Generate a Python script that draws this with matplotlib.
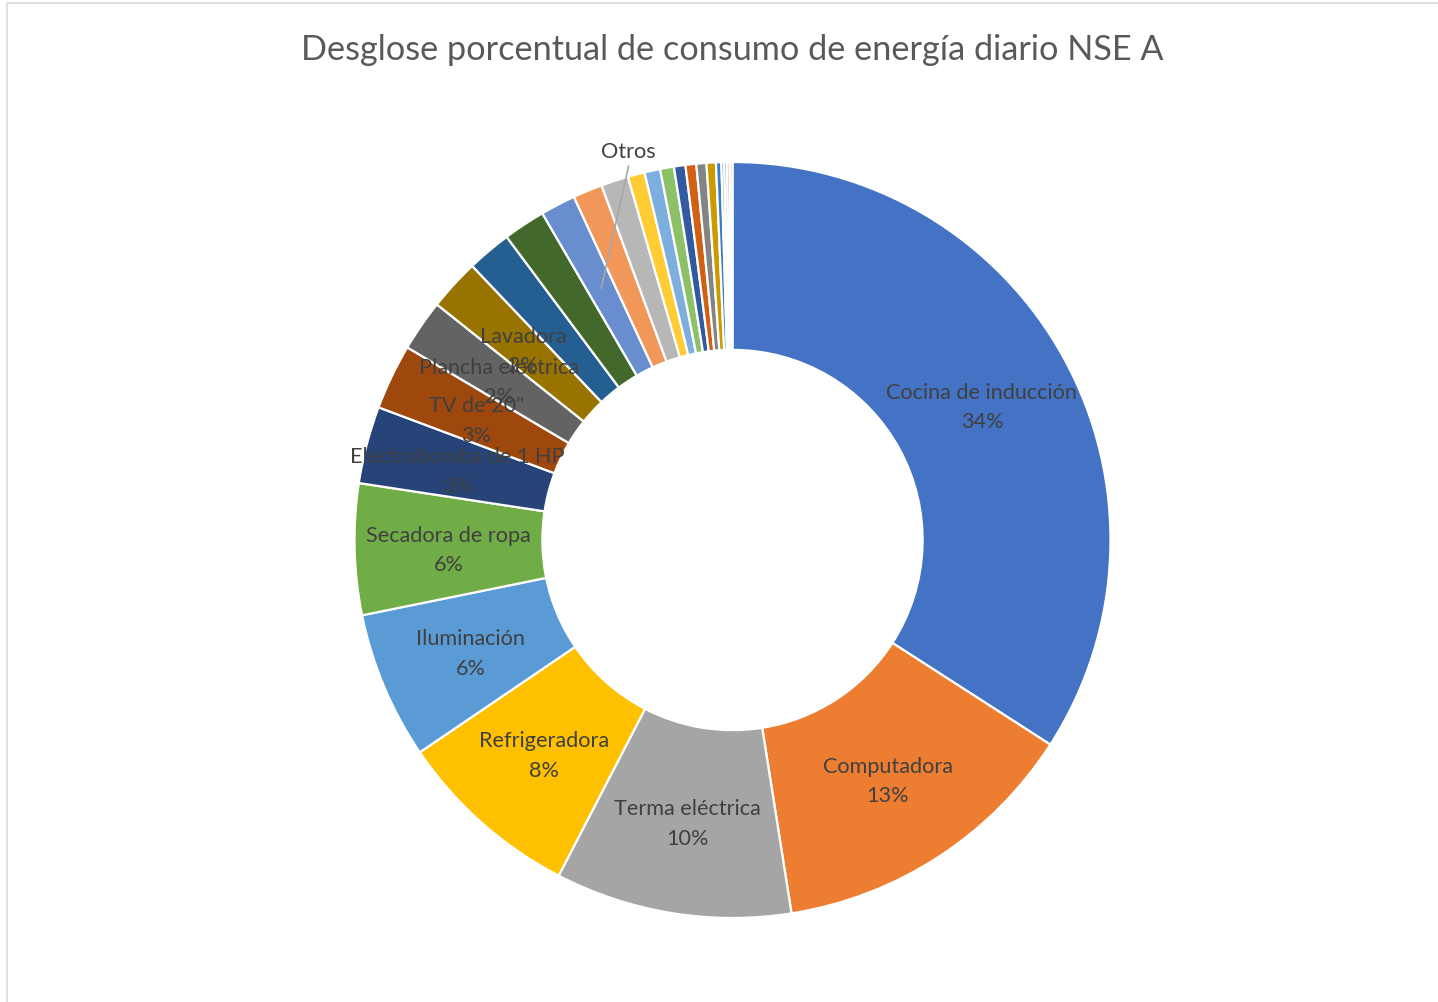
import matplotlib
matplotlib.use("Agg")

import numpy as np
import matplotlib.pyplot as plt
from matplotlib.patches import Rectangle

# Daily energy share per appliance (percent)
labels = ["Cocina de inducción", "Computadora", "Terma eléctrica", "Refrigeradora",
          "Iluminación", "Secadora de ropa", "Electrobomba de 1 HP", "TV de 20\"",
          "Plancha eléctrica", "Lavadora",
          "", "", "Otros", "", "", "", "", "", "", "", "", "", "", "", "", "", ""]
values = [34.1, 13.4, 10.1, 7.9,
          6.3, 5.6, 3.3, 2.8,
          2.2, 2.2,
          1.9, 1.8, 1.5, 1.26, 1.17, 0.72, 0.67, 0.59, 0.49, 0.46, 0.43, 0.40, 0.23,
          0.12, 0.12, 0.12, 0.11]
colors = ["#4472C4", "#ED7D31", "#A5A5A5", "#FFC000", "#5B9BD5", "#70AD47",
          "#264478", "#9E480E", "#636363", "#997300", "#255E91", "#43682B",
          "#698ED0", "#F1975A", "#B7B7B7", "#FFCD33", "#7CAFDD", "#8CC168",
          "#335AA1", "#D26012", "#848484", "#CC9A00", "#3A7EC2", "#5A8A39",
          "#8FAADC", "#F4B183", "#C9C9C9"]
# which wedges get "name + %" inside the ring
show_pct = 10
title = "Desglose porcentual de consumo de energía diario NSE A"

W, H = 1438, 1003
fig = plt.figure(figsize=(W / 100, H / 100), dpi=100)
fig.patch.set_facecolor("white")

# chart frame (cut off at right and bottom like the screenshot)
fig.patches.append(Rectangle((7 / W, -0.05), 1.1, 1 - 4 / H + 0.05,
                             transform=fig.transFigure, fill=False,
                             edgecolor="#D9D9D9", linewidth=1.2))

cx, cy, R = 732.5, 541, 378
ax = fig.add_axes([(cx - R) / W, (H - cy - R) / H, 2 * R / W, 2 * R / H])

wedges, _ = ax.pie(values, colors=colors, startangle=90, counterclock=False,
                   radius=1.0,
                   wedgeprops=dict(width=0.497, edgecolor="white", linewidth=1.6))
ax.set_xlim(-1, 1)
ax.set_ylim(-1, 1)
ax.axis("off")

total = float(sum(values))
font = ["Lato", "DejaVu Sans"]
for i, w in enumerate(wedges):
    ang = np.deg2rad((w.theta1 + w.theta2) / 2)
    x, y = 0.7515 * np.cos(ang), 0.7515 * np.sin(ang)
    if i < show_pct:
        pct = int(values[i] / total * 100 + 0.5)
        ax.text(x, y - 0.007, "%s\n%d%%" % (labels[i], pct), ha="center", va="center",
                fontsize=15.6, color="#404040", family=font, linespacing=1.6)
    elif labels[i]:
        # leader line to label above the ring
        ax.plot([x, -0.275], [y, 0.989], color="#A6A6A6", linewidth=1.2,
                clip_on=False)
        ax.text(-0.276, 1.03, labels[i], ha="center", va="center",
                fontsize=15.6, color="#404040", family=font)

fig.text(cx / W, 1 - 50 / H, title, ha="center", va="center",
         fontsize=24.7, color="#595959", family=font)

fig.savefig("out.png", dpi=100, facecolor="white")
